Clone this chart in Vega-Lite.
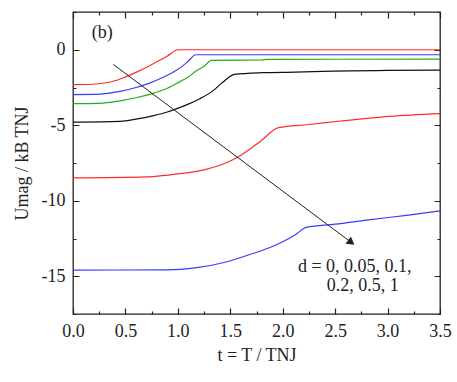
{
  "$schema": "https://vega.github.io/schema/vega-lite/v6.json",
  "width": 367,
  "height": 302,
  "autosize": {"type": "none"},
  "padding": {"left": 73, "top": 12, "right": 17, "bottom": 68},
  "config": {
    "view": {"stroke": "#222222", "strokeWidth": 1.3},
    "font": "Liberation Serif",
    "axis": {"grid": false, "domain": false, "gridColor": "#222222", "gridOpacity": 1, "gridWidth": 1.2, "labelColor": "#222222", "titleColor": "#222222", "labelFont": "Liberation Serif", "titleFont": "Liberation Serif", "labelFontSize": 18, "titleFontSize": 18, "titleFontWeight": "normal"}
  },
  "resolve": {"axis": {"x": "independent", "y": "independent"}},
  "datasets": {
    "curves": [
      {"d": "0", "t": 0, "v": -2.31}, {"d": "0", "t": 0.15, "v": -2.3}, {"d": "0", "t": 0.3, "v": -2.2}, {"d": "0", "t": 0.4, "v": -2.05}, {"d": "0", "t": 0.5, "v": -1.8}, {"d": "0", "t": 0.6, "v": -1.5}, {"d": "0", "t": 0.7, "v": -1.17}, {"d": "0", "t": 0.8, "v": -0.8}, {"d": "0", "t": 0.9, "v": -0.42}, {"d": "0", "t": 1.0, "v": 0}, {"d": "0", "t": 3.5, "v": 0},
      {"d": "0.05", "t": 0, "v": -2.97}, {"d": "0.05", "t": 0.2, "v": -2.96}, {"d": "0.05", "t": 0.35, "v": -2.87}, {"d": "0.05", "t": 0.45, "v": -2.76}, {"d": "0.05", "t": 0.6, "v": -2.5}, {"d": "0.05", "t": 0.73, "v": -2.21}, {"d": "0.05", "t": 0.85, "v": -1.85}, {"d": "0.05", "t": 0.95, "v": -1.5}, {"d": "0.05", "t": 1.05, "v": -1.05}, {"d": "0.05", "t": 1.1, "v": -0.75}, {"d": "0.05", "t": 1.17, "v": -0.33}, {"d": "0.05", "t": 3.5, "v": -0.33},
      {"d": "0.1", "t": 0, "v": -3.57}, {"d": "0.1", "t": 0.25, "v": -3.55}, {"d": "0.1", "t": 0.45, "v": -3.38}, {"d": "0.1", "t": 0.6, "v": -3.18}, {"d": "0.1", "t": 0.77, "v": -2.87}, {"d": "0.1", "t": 0.9, "v": -2.55}, {"d": "0.1", "t": 1.02, "v": -2.11}, {"d": "0.1", "t": 1.1, "v": -1.8}, {"d": "0.1", "t": 1.16, "v": -1.48}, {"d": "0.1", "t": 1.25, "v": -1.1}, {"d": "0.1", "t": 1.32, "v": -0.71}, {"d": "0.1", "t": 1.8, "v": -0.68}, {"d": "0.1", "t": 1.85, "v": -0.64}, {"d": "0.1", "t": 3.5, "v": -0.62},
      {"d": "0.2", "t": 0, "v": -4.79}, {"d": "0.2", "t": 0.45, "v": -4.74}, {"d": "0.2", "t": 0.6, "v": -4.6}, {"d": "0.2", "t": 0.77, "v": -4.36}, {"d": "0.2", "t": 0.9, "v": -4.12}, {"d": "0.2", "t": 0.99, "v": -3.9}, {"d": "0.2", "t": 1.1, "v": -3.6}, {"d": "0.2", "t": 1.21, "v": -3.24}, {"d": "0.2", "t": 1.34, "v": -2.69}, {"d": "0.2", "t": 1.43, "v": -2.14}, {"d": "0.2", "t": 1.54, "v": -1.63}, {"d": "0.2", "t": 1.81, "v": -1.52}, {"d": "0.2", "t": 2.12, "v": -1.48}, {"d": "0.2", "t": 2.48, "v": -1.41}, {"d": "0.2", "t": 3.0, "v": -1.37}, {"d": "0.2", "t": 3.5, "v": -1.35},
      {"d": "0.5", "t": 0, "v": -8.49}, {"d": "0.5", "t": 0.7, "v": -8.42}, {"d": "0.5", "t": 0.9, "v": -8.3}, {"d": "0.5", "t": 1.08, "v": -8.16}, {"d": "0.5", "t": 1.25, "v": -7.95}, {"d": "0.5", "t": 1.4, "v": -7.65}, {"d": "0.5", "t": 1.52, "v": -7.3}, {"d": "0.5", "t": 1.62, "v": -6.9}, {"d": "0.5", "t": 1.78, "v": -6.11}, {"d": "0.5", "t": 1.96, "v": -5.16}, {"d": "0.5", "t": 2.25, "v": -4.95}, {"d": "0.5", "t": 2.55, "v": -4.72}, {"d": "0.5", "t": 3.02, "v": -4.41}, {"d": "0.5", "t": 3.5, "v": -4.23},
      {"d": "1", "t": 0, "v": -14.59}, {"d": "1", "t": 0.89, "v": -14.58}, {"d": "1", "t": 1.18, "v": -14.43}, {"d": "1", "t": 1.47, "v": -14.04}, {"d": "1", "t": 1.72, "v": -13.48}, {"d": "1", "t": 1.88, "v": -13.1}, {"d": "1", "t": 2.0, "v": -12.72}, {"d": "1", "t": 2.12, "v": -12.25}, {"d": "1", "t": 2.23, "v": -11.75}, {"d": "1", "t": 2.5, "v": -11.55}, {"d": "1", "t": 2.8, "v": -11.28}, {"d": "1", "t": 3.2, "v": -10.95}, {"d": "1", "t": 3.5, "v": -10.67}
    ],
    "arrow": [{"t": 0.384, "v": -0.97, "t2": 2.654, "v2": -12.76}],
    "notes": [
      {"t": 0.18, "v": 1.08, "label": "(b)"},
      {"t": 2.145, "v": -14.37, "label": "d = 0, 0.05, 0.1,"},
      {"t": 2.42, "v": -15.62, "label": "0.2, 0.5, 1"}
    ]
  },
  "layer": [
    {
      "data": {"name": "curves"},
      "mark": {"type": "line", "strokeWidth": 1.2, "interpolate": "monotone"},
      "encoding": {
        "x": {"field": "t", "type": "quantitative", "scale": {"domain": [0, 3.5], "nice": false, "zero": false},
          "axis": {"orient": "bottom", "title": "t = T / TNJ", "values": [0, 0.5, 1, 1.5, 2, 2.5, 3, 3.5],
            "format": ".1f", "ticks": false, "grid": true, "gridDash": [6, 290, 6], "labelPadding": 8, "titlePadding": 6, "labelFlush": false}},
        "y": {"field": "v", "type": "quantitative", "scale": {"domain": [-17.5, 2.5], "nice": false, "zero": false},
          "axis": {"orient": "left", "title": "Umag / kB TNJ", "values": [-15, -10, -5, 0],
            "labelExpr": "'' + datum.value", "ticks": false, "grid": true, "gridDash": [6, 355, 6], "labelPadding": 8, "titlePadding": 10, "labelFlush": false}},
        "color": {"field": "d", "type": "nominal", "scale": {"domain": ["0", "0.05", "0.1", "0.2", "0.5", "1"], "range": ["#ff2a2a", "#3a3aff", "#22aa22", "#111111", "#ff2a2a", "#3a3aff"]}, "legend": null}
      }
    },
    {
      "data": {"name": "arrow"},
      "mark": {"type": "rule", "color": "#222222", "strokeWidth": 1},
      "encoding": {
        "x": {"field": "t", "type": "quantitative",
          "axis": {"orient": "top", "title": null, "values": [0.25, 0.75, 1.25, 1.75, 2.25, 2.75, 3.25], "labels": false, "ticks": false, "grid": true, "gridDash": [3, 296, 3]}},
        "y": {"field": "v", "type": "quantitative",
          "axis": {"orient": "right", "title": null, "values": [-17.5, -12.5, -7.5, -2.5, 2.5], "labels": false, "ticks": false, "grid": true, "gridDash": [3, 361, 3]}},
        "x2": {"field": "t2"},
        "y2": {"field": "v2"}
      }
    },
    {
      "data": {"name": "arrow"},
      "mark": {"type": "point", "shape": "triangle-right", "angle": 36.8, "size": 80, "filled": true, "color": "#222222", "opacity": 1},
      "encoding": {
        "x": {"field": "t2", "type": "quantitative", "axis": null},
        "y": {"field": "v2", "type": "quantitative", "axis": null}
      }
    },
    {
      "data": {"name": "notes"},
      "mark": {"type": "text", "fontSize": 18, "font": "Liberation Serif", "color": "#222222", "baseline": "middle", "align": "left"},
      "encoding": {
        "x": {"field": "t", "type": "quantitative", "axis": null},
        "y": {"field": "v", "type": "quantitative", "axis": null},
        "text": {"field": "label"}
      }
    }
  ]
}
